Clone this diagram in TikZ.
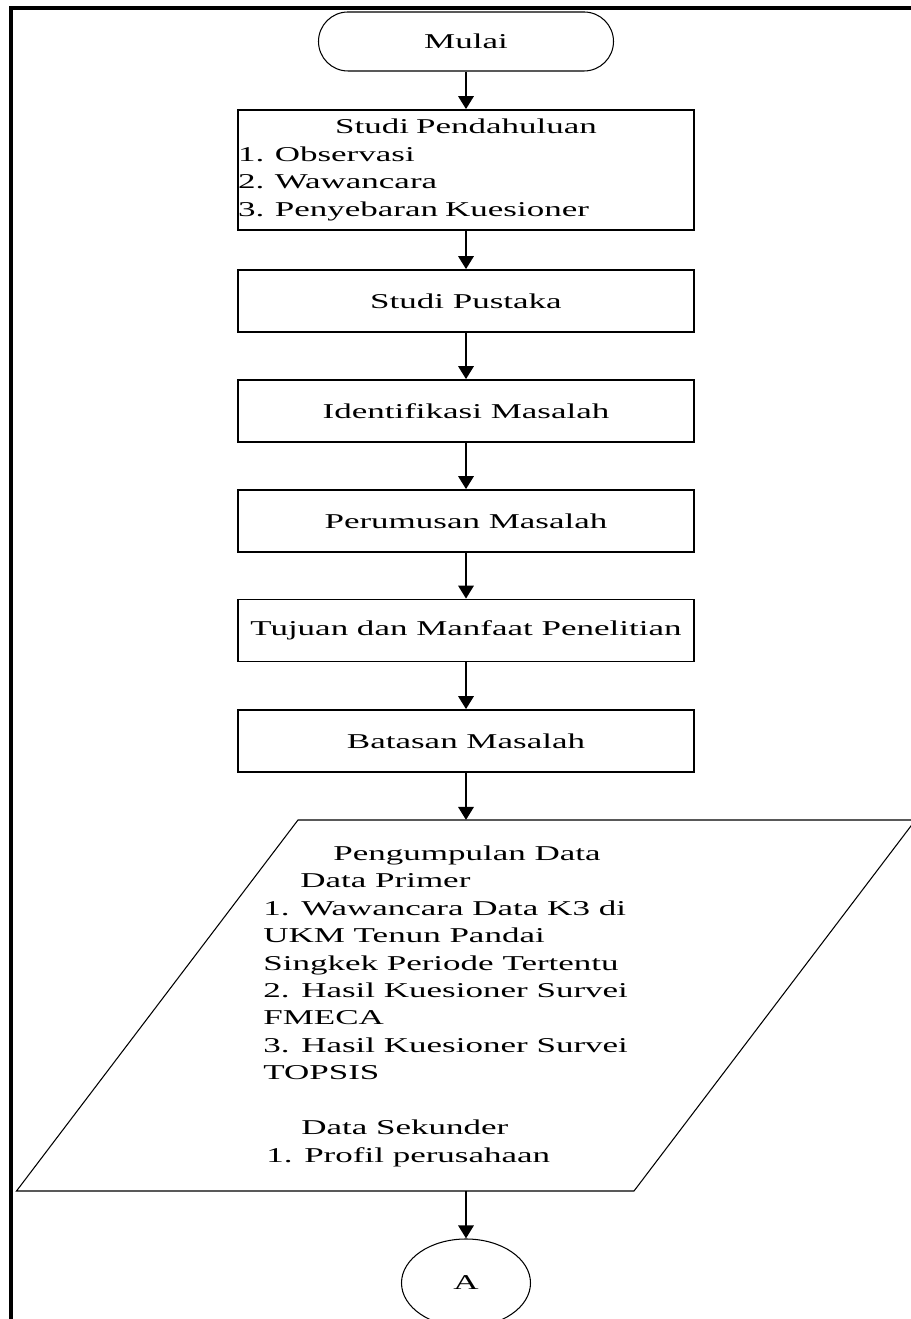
\documentclass[tikz,border=0pt]{standalone}
\usepackage{fontspec}
\setmainfont[FakeStretch=1.66]{Liberation Serif}
\usetikzlibrary{arrows.meta,shapes.geometric}

\begin{document}
\begin{tikzpicture}[font=\fontsize{12}{15.6}\selectfont,
 stage/.style={draw,line width=.9pt,minimum width=9.12cm,minimum height=1.24cm,inner sep=0pt},
 terminal/.style={draw,line width=.6pt,rounded corners=.59cm,minimum width=5.9cm,minimum height=1.18cm},
 connector/.style={draw,ellipse,line width=.6pt,minimum width=2.58cm,minimum height=1.76cm,inner sep=0pt},
 flow/.style={-{Triangle[length=2.6mm,width=3mm]},line width=1.7pt}]
\path[use as bounding box] (0,0) rectangle (18.22,26.38);
% Heavy page frame, open on the right and at the bottom.
\draw[line width=2.3pt] (18.4,26.22) -- (0.22,26.22) -- (0.22,-.1);
\node[terminal] (mulai) at (9.32,25.55) {Mulai};
\node[stage,minimum height=2.4cm,text width=9.12cm,align=left] (pendahuluan) at (9.32,22.98)
  {\makebox[9.12cm]{Studi Pendahuluan}\\1. Observasi\\2. Wawancara\\3. Penyebaran Kuesioner};
\node[stage] (pustaka) at (9.32,20.36) {Studi Pustaka};
\node[stage] (identifikasi) at (9.32,18.16) {Identifikasi Masalah};
\node[stage] (perumusan) at (9.32,15.96) {Perumusan Masalah};
\node[stage] (tujuan) at (9.32,13.77) {Tujuan dan Manfaat Penelitian};
\node[stage] (batasan) at (9.32,11.56) {Batasan Masalah};
% The data parallelogram runs past the right edge of the page.
\coordinate (pd-nw) at (5.96,9.98);
\coordinate (pd-ne) at (18.31,9.98);
\coordinate (pd-se) at (12.68,2.56);
\coordinate (pd-sw) at (0.33,2.56);
\coordinate (pd-in) at (9.32,9.98);
\coordinate (pd-out) at (9.32,2.56);
\draw[line width=.6pt] (pd-nw) -- (pd-ne) -- (pd-se) -- (pd-sw) -- cycle;
\node[anchor=north west,inner sep=0pt,align=left] (data) at (5.26,9.47)
  {\hspace*{1.4cm}Pengumpulan Data\\\hspace*{.74cm}Data Primer\\1. Wawancara Data K3 di\\UKM Tenun Pandai\\Singkek Periode Tertentu\\2. Hasil Kuesioner Survei\\FMECA\\3. Hasil Kuesioner Survei\\TOPSIS\\[15.6pt]\hspace*{.76cm}Data Sekunder\\\hspace*{.06cm}1. Profil perusahaan};
\node[connector] (A) at (9.32,.72) {A};
\draw[flow] (mulai) -- (pendahuluan);
\draw[flow] (pendahuluan) -- (pustaka);
\draw[flow] (pustaka) -- (identifikasi);
\draw[flow] (identifikasi) -- (perumusan);
\draw[flow] (perumusan) -- (tujuan);
\draw[flow] (tujuan) -- (batasan);
\draw[flow] (batasan) -- (pd-in);
\draw[flow] (pd-out) -- (A);
\end{tikzpicture}
\end{document}
